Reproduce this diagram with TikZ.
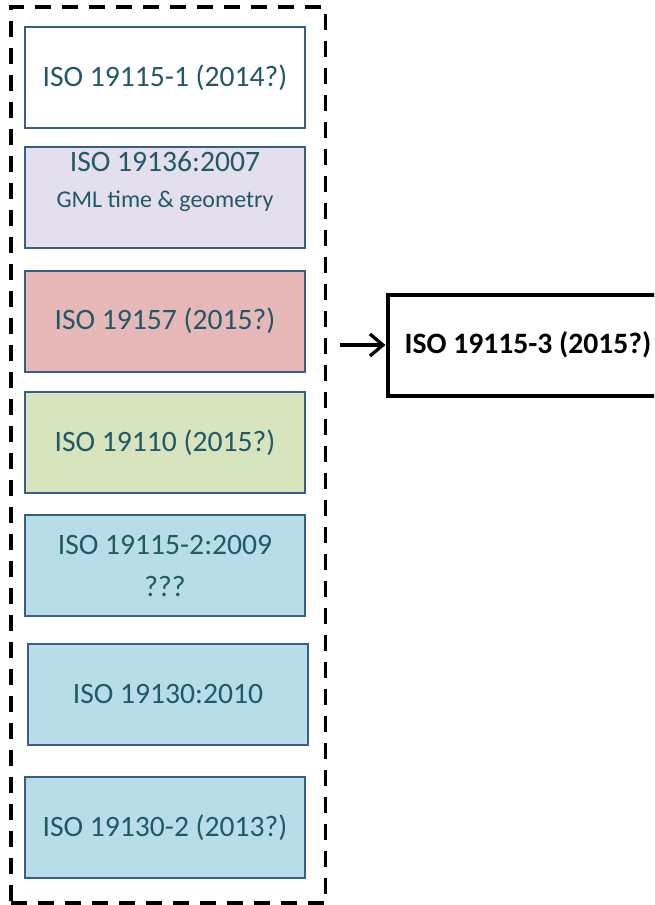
\documentclass[tikz,border=0pt]{standalone}
\usepackage{fontspec}
\setmainfont{Carlito}
\usetikzlibrary{arrows.meta}
\definecolor{bordc}{HTML}{385D8A}
\definecolor{txtc}{HTML}{215968}
\definecolor{lavc}{HTML}{E4DFEC}
\definecolor{pinkc}{HTML}{E6B9B8}
\definecolor{greenc}{HTML}{D7E4BD}
\definecolor{bluec}{HTML}{B7DEE8}
\begin{document}
\begin{tikzpicture}[x=1pt,y=-1pt,
  stdbox/.style={draw=bordc, line width=2pt, minimum width=280pt, minimum height=101pt,
    inner sep=0pt, text=txtc, font=\fontsize{29.6}{42}\selectfont, align=center},
  grpbox/.style={draw=black, line width=3.5pt, dash pattern=on 16pt off 11pt,
    minimum width=314.5pt, minimum height=896pt, inner sep=0pt},
  outbox/.style={draw=black, line width=4pt, minimum width=281pt, minimum height=101pt,
    inner sep=0pt, font=\bfseries\fontsize{29.6}{38}\selectfont},
  txtlbl/.style={text=txtc, align=center, inner sep=0pt, font=\fontsize{29.6}{36}\selectfont}]
\clip (0,0) rectangle (654,905);
\node[grpbox] (grp) at (168.25,455) {};
\node[stdbox, fill=white] (b1) at (165,77.5) {ISO 19115-1 (2014?)};
\node[stdbox, fill=lavc] (b2) at (165,197.5) {};
\node[txtlbl] (b2t) at (165,182) {ISO 19136:2007\\{\fontsize{24}{36}\selectfont GML time \& geometry}};
\node[stdbox, fill=pinkc] (b3) at (165,321) {ISO 19157 (2015?)};
\node[stdbox, fill=greenc] (b4) at (165,442.5) {ISO 19110 (2015?)};
\node[stdbox, fill=bluec] (b5) at (165,565.5) {ISO 19115-2:2009\\???};
\node[stdbox, fill=bluec] (b6) at (168,694) {ISO 19130:2010};
\node[stdbox, fill=bluec] (b7) at (165,827.5) {ISO 19130-2 (2013?)};
\node[outbox, anchor=west] (rb) at (385.5,345) {ISO 19115-3 (2015?)};
\coordinate (a0) at (340,345);
\draw[line width=3.3pt, -{Straight Barb[length=13pt,width=22pt]}] (a0) -- (rb.west);
\end{tikzpicture}
\end{document}
